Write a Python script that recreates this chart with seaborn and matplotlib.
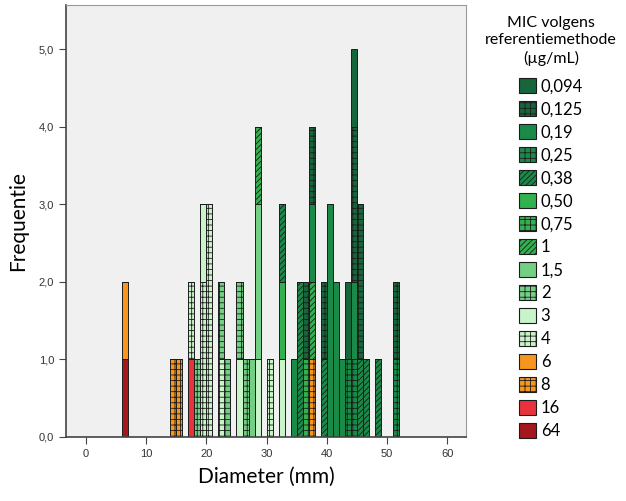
import matplotlib

matplotlib.use("Agg")

import matplotlib.pyplot as plt
import pandas as pd
import seaborn as sns
from matplotlib.patches import Patch

# MIC categories (legend order, top of the stack first)
MIC_LEVELS = ["0,094", "0,125", "0,19", "0,25", "0,38", "0,50", "0,75", "1",
              "1,5", "2", "3", "4", "6", "8", "16", "64"]

# zone diameters (mm) per MIC category
DIAM_0094 = [43, 44]
DIAM_0125 = [36, 37, 39, 44, 44, 45, 45, 51]
DIAM_019 = [34, 37, 40, 40, 40, 41, 41, 42, 44]
DIAM_025 = [43, 44, 51]
DIAM_038 = [32, 35, 35, 39, 45, 46, 48]
DIAM_050 = [32]
DIAM_075 = [36]
DIAM_1 = [28, 37]
DIAM_15 = [27, 28, 28]
DIAM_2 = [18, 22, 23, 25, 26]
DIAM_3 = [19, 25, 28, 32]
DIAM_4 = [17, 19, 19, 20, 20, 20, 22, 30]
DIAM_6 = [6]
DIAM_8 = [14, 15, 37]
DIAM_16 = [17]
DIAM_64 = [6]

Y_TICKS = [0, 1, 2, 3, 4, 5]
X_TICKS = [0, 10, 20, 30, 40, 50, 60]

dark = "#17663b"
med = "#1a8a48"
bright = "#33b04f"
light = "#72cf84"
pale = "#c9f3c9"
COLORS = [dark, dark, med, med, med, bright, bright, bright,
          light, light, pale, pale, "#f7961d", "#f7961d", "#e8323c", "#a3171d"]
HATCHES = ["", "+++", "", "+++", "//////", "", "+++", "//////",
           "", "+++", "", "+++", "", "+++", "", ""]

all_diams = [DIAM_0094, DIAM_0125, DIAM_019, DIAM_025, DIAM_038, DIAM_050, DIAM_075, DIAM_1,
             DIAM_15, DIAM_2, DIAM_3, DIAM_4, DIAM_6, DIAM_8, DIAM_16, DIAM_64]
rows = []
for level, vals in zip(MIC_LEVELS, all_diams):
    for v in vals:
        rows.append({"Diameter": v, "MIC": level})
df = pd.DataFrame(rows)

plt.rcParams["font.family"] = ["Liberation Sans", "DejaVu Sans"]
plt.rcParams["hatch.linewidth"] = 0.6

fig = plt.figure(figsize=(6.26, 5.01), dpi=100)
ax = fig.add_axes([66 / 626, 1 - 437 / 501, 400 / 626, 432 / 501])
ax.set_facecolor("#f0f0f0")

sns.histplot(data=df, x="Diameter", hue="MIC", hue_order=MIC_LEVELS, multiple="stack",
             binwidth=1, binrange=(6, 52), palette=COLORS, alpha=1,
             edgecolor="#1c1c1c", linewidth=0.7, legend=False, ax=ax)

# seaborn draws the hue levels in reverse order
for cont, level in zip(ax.containers, MIC_LEVELS[::-1]):
    i = MIC_LEVELS.index(level)
    for bar in cont:
        bar.set_hatch(HATCHES[i])

ax.set_xlim(-3.3, 63.1)
ax.set_ylim(0, 5.57)
ax.set_xticks(X_TICKS)
ax.set_yticks(Y_TICKS)
ax.set_yticklabels([f"{v:.1f}".replace(".", ",") for v in Y_TICKS])
ax.tick_params(direction="out", length=5, width=0.8, color="#444444",
               labelsize=8, labelcolor="#333333")

for side in ["left", "bottom"]:
    ax.spines[side].set_color("#444444")
    ax.spines[side].set_linewidth(1.2)
for side in ["top", "right"]:
    ax.spines[side].set_color("#999999")
    ax.spines[side].set_linewidth(0.8)

ax.set_xlabel("Diameter (mm)", family="Lato", fontsize=15, labelpad=6)
ax.set_ylabel("Frequentie", family="Lato", fontsize=15, labelpad=8)

handles = [Patch(facecolor=c, edgecolor="#1c1c1c", hatch=h, linewidth=0.8)
           for c, h in zip(COLORS, HATCHES)]
leg = fig.legend(handles, MIC_LEVELS, title="MIC volgens\nreferentiemethode\n(µg/mL)",
                 loc="upper center", bbox_to_anchor=(551 / 626, 1 - 9 / 501),
                 frameon=False, prop={"family": "Lato", "size": 12},
                 title_fontproperties={"family": "Lato", "size": 11.5},
                 handlelength=1.0, handleheight=1.0, handletextpad=0.3,
                 labelspacing=0.41, borderaxespad=0)
leg.get_title().set_multialignment("center")
leg.get_title().set_linespacing(1.3)
leg._legend_box.sep = 9

fig.savefig("out.png", dpi=100, facecolor="white")
